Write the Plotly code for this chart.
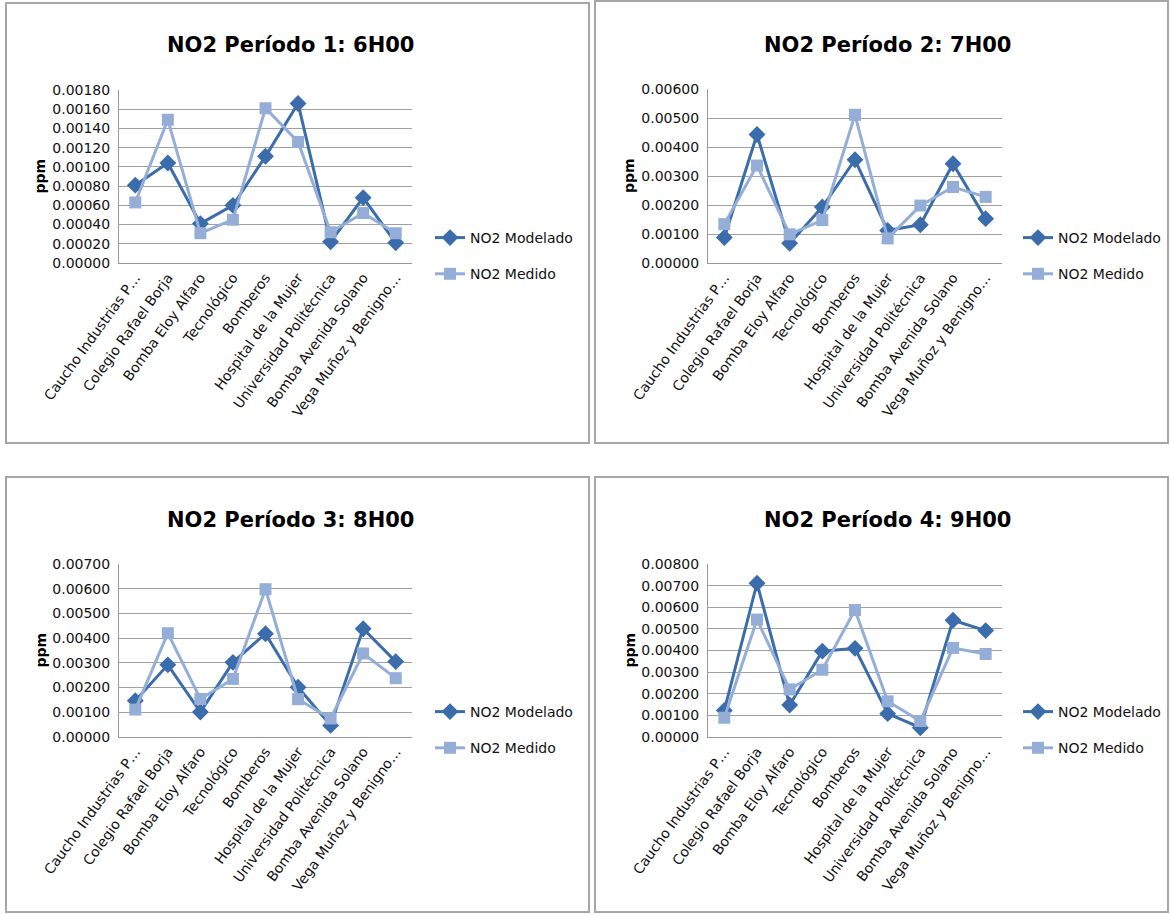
import plotly.graph_objects as go

W, H = 1171, 915
OFF = 0  # body margin removed by post_script below

categories = [
    "Caucho Industrias P…",
    "Colegio Rafael Borja",
    "Bomba Eloy Alfaro",
    "Tecnológico",
    "Bomberos",
    "Hospital de la Mujer",
    "Universidad Politécnica",
    "Bomba Avenida Solano",
    "Vega Muñoz y Benigno…",
]

titles = [
    "NO2 Período 1: 6H00",
    "NO2 Período 2: 7H00",
    "NO2 Período 3: 8H00",
    "NO2 Período 4: 9H00",
]

modelado_p1 = [0.00081, 0.00104, 0.00041, 0.00060, 0.00111, 0.00166, 0.00022, 0.00068, 0.00021]
medido_p1 = [0.00063, 0.00149, 0.00031, 0.00045, 0.00161, 0.00126, 0.00032, 0.00052, 0.00031]

modelado_p2 = [0.00088, 0.00443, 0.00068, 0.00193, 0.00356, 0.00112, 0.00132, 0.00342, 0.00153]
medido_p2 = [0.00134, 0.00336, 0.00099, 0.00148, 0.00511, 0.00085, 0.00198, 0.00262, 0.00228]

modelado_p3 = [0.00147, 0.00292, 0.00101, 0.00302, 0.00418, 0.00201, 0.00047, 0.00438, 0.00305]
medido_p3 = [0.00111, 0.00420, 0.00154, 0.00235, 0.00598, 0.00153, 0.00075, 0.00338, 0.00238]

modelado_p4 = [0.00123, 0.00711, 0.00148, 0.00397, 0.00410, 0.00108, 0.00043, 0.00540, 0.00492]
medido_p4 = [0.00089, 0.00543, 0.00220, 0.00311, 0.00587, 0.00165, 0.00074, 0.00412, 0.00384]

y_max = [0.0018, 0.006, 0.007, 0.008]
y_step = [0.0002, 0.001, 0.001, 0.001]

series = [
    (modelado_p1, medido_p1),
    (modelado_p2, medido_p2),
    (modelado_p3, medido_p3),
    (modelado_p4, medido_p4),
]

C_MOD = "#3B6CAB"
C_MED = "#94AED8"
FONT = "DejaVu Sans"

# pixel geometry of each panel (page coordinates): plot area, border, title, legend
panels = [
    dict(px=(119, 412), py=(90, 263), border=(6, 3, 589, 443), tx=290, ty=45, lx=430, ly=222),
    dict(px=(708, 1002), py=(89, 263), border=(595, 1, 1168, 443), tx=887, ty=45, lx=1018, ly=222),
    dict(px=(119, 412), py=(564, 737), border=(6, 477, 589, 912), tx=290, ty=520, lx=430, ly=696),
    dict(px=(708, 1002), py=(564, 737), border=(595, 477, 1168, 912), tx=887, ty=520, lx=1018, ly=696),
]

def fx(p):
    return (p - OFF) / W

def fy(p):
    return 1 - (p - OFF) / H

fig = go.Figure()
shapes = []
annotations = []

for i, (mod, med) in enumerate(series):
    n = i + 1
    xa = "x" if n == 1 else f"x{n}"
    ya = "y" if n == 1 else f"y{n}"
    lg = "legend" if n == 1 else f"legend{n}"
    fig.add_trace(go.Scatter(
        x=categories, y=mod, name="NO2 Modelado", mode="lines+markers",
        line=dict(color=C_MOD, width=3), marker=dict(symbol="diamond", size=13, color=C_MOD),
        xaxis=xa, yaxis=ya, legend=lg, legendgroup=f"m{n}",
    ))
    fig.add_trace(go.Scatter(
        x=categories, y=med, name="NO2 Medido", mode="lines+markers",
        line=dict(color=C_MED, width=3), marker=dict(symbol="square", size=12, color=C_MED),
        xaxis=xa, yaxis=ya, legend=lg, legendgroup=f"d{n}",
    ))
    p = panels[i]
    xkey = "xaxis" if n == 1 else f"xaxis{n}"
    ykey = "yaxis" if n == 1 else f"yaxis{n}"
    fig.update_layout(**{
        xkey: dict(
            domain=[fx(p["px"][0]), fx(p["px"][1])], anchor=ya, type="category",
            range=[-0.5, len(categories) - 0.5], tickangle=-54, automargin=False,
            tickfont=dict(family=FONT, size=14, color="#111"),
            showgrid=False, showline=True, linecolor="#999", linewidth=1,
            ticks="", zeroline=False, fixedrange=True,
        ),
        ykey: dict(
            domain=[fy(p["py"][1]), fy(p["py"][0])], anchor=xa, automargin=False,
            range=[0, y_max[i]], dtick=y_step[i], tick0=0, tickformat=".5f",
            tickfont=dict(family=FONT, size=14, color="#111"), ticklabelstandoff=5,
            showgrid=True, gridcolor="#A0A0A0", gridwidth=1,
            showline=True, linecolor="#999", linewidth=1, zeroline=False,
            ticks="", fixedrange=True,
        ),
        lg: dict(
            x=fx(p["lx"]), y=fy(p["ly"]), xanchor="left", yanchor="top",
            font=dict(family=FONT, size=14, color="#111"),
            tracegroupgap=15, bgcolor="rgba(0,0,0,0)", itemwidth=30,
        ),
    })
    bx0, by0, bx1, by1 = p["border"]
    shapes.append(dict(type="rect", xref="paper", yref="paper",
                       x0=fx(bx0), x1=fx(bx1), y0=fy(by1), y1=fy(by0),
                       line=dict(color="#A6A6A6", width=2)))
    annotations.append(dict(text=f"<b>{titles[i]}</b>", xref="paper", yref="paper",
                            x=fx(p["tx"]), y=fy(p["ty"]), xanchor="center", yanchor="middle",
                            showarrow=False, font=dict(family=FONT, size=21, color="#000")))
    annotations.append(dict(text="<b>ppm</b>", xref="paper", yref="paper",
                            x=fx(p["px"][0] - 79), y=fy((p["py"][0] + p["py"][1]) / 2),
                            xanchor="center", yanchor="middle", textangle=-90,
                            showarrow=False, font=dict(family=FONT, size=14, color="#000")))

fig.update_layout(
    width=W, height=H, margin=dict(l=0, r=0, t=0, b=0, autoexpand=False),
    paper_bgcolor="white", plot_bgcolor="white",
    shapes=shapes, annotations=annotations, showlegend=True,
)

fig.write_html("out.html", config={"displayModeBar": False},
               post_script="document.body.style.margin='0';")
